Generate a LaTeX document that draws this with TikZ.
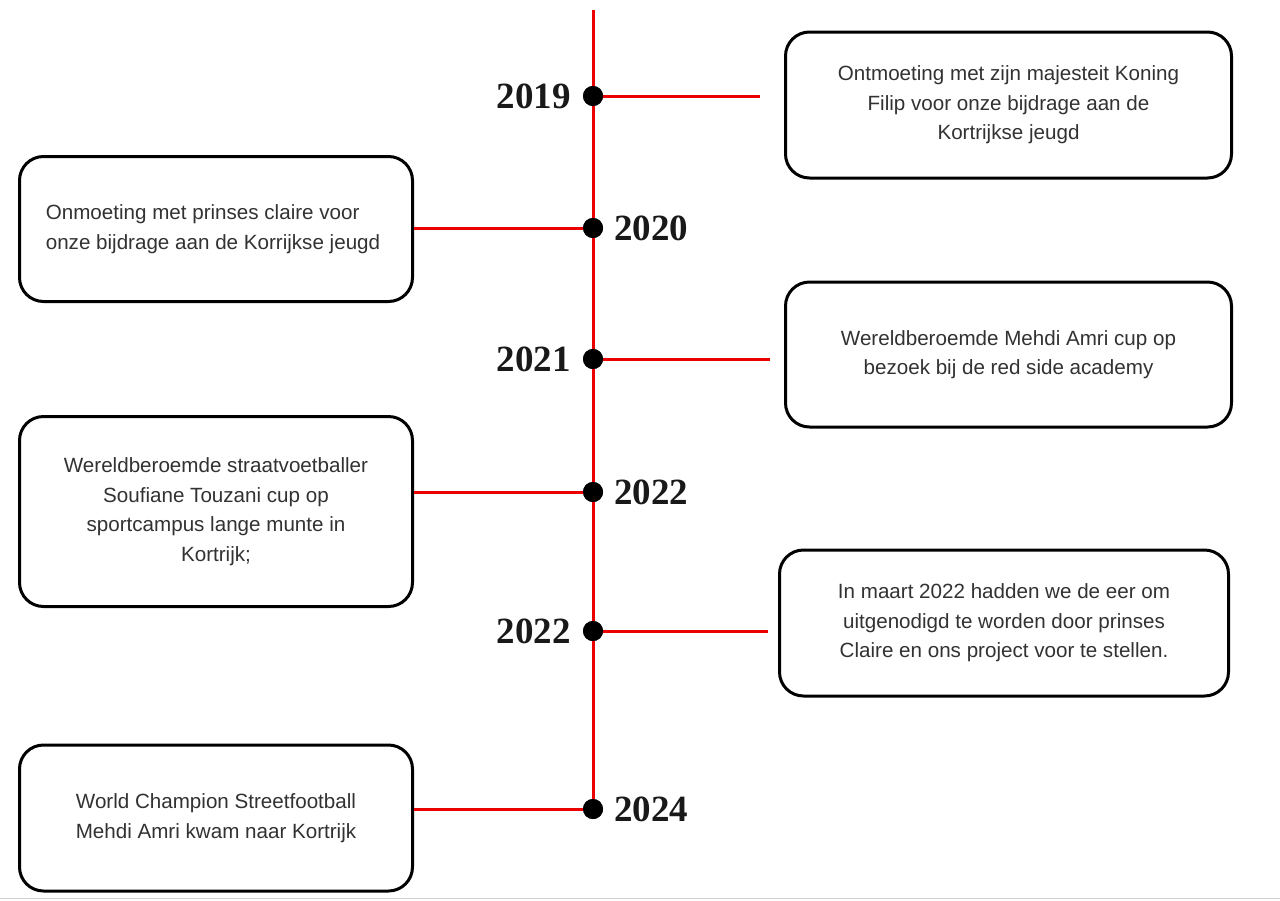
\documentclass[tikz,border=0pt]{standalone}
\usepackage{fontspec}
\setmainfont{Liberation Sans}
\newfontfamily\yearfont{Liberation Serif}
\definecolor{lnred}{RGB}{235,0,0}
\definecolor{txtgray}{RGB}{50,50,50}
\begin{document}
\begin{tikzpicture}[x=1pt,y=-1pt,
  evbox/.style={draw=black, line width=3pt, rounded corners=24pt, inner sep=0pt,
    text=txtgray, font=\fontsize{20.6}{29.5}\selectfont, align=center},
  redline/.style={draw=lnred, line width=3pt},
  dotmark/.style={circle, fill=black, minimum size=20pt, inner sep=0pt},
  yearlbl/.style={font=\yearfont\bfseries\fontsize{37}{37}\selectfont, inner sep=0pt, text=black!90}
]
\useasboundingbox (0,0) rectangle (1280,900);
\fill[white] (0,0) rectangle (1280,900);
\draw[gray!35, line width=1.5pt] (0,898.5) -- (1280,898.5);

% boxes
\node[evbox, minimum width=446pt, minimum height=146pt] (b1) at (1008.5,105)
  {Ontmoeting met zijn majesteit Koning\\Filip voor onze bijdrage aan de\\Kortrijkse jeugd};
\node[evbox, minimum width=393pt, minimum height=145pt, align=left] (b2) at (216,229)
  {Onmoeting met prinses claire voor\\onze bijdrage aan de Korrijkse jeugd\hspace*{6pt}};
\node[evbox, minimum width=446pt, minimum height=145pt] (b3) at (1008.5,354.5)
  {Wereldberoemde Mehdi Amri cup op\\bezoek bij de red side academy};
\node[evbox, minimum width=393pt, minimum height=190pt] (b4) at (216,511.5)
  {Wereldberoemde straatvoetballer\\Soufiane Touzani cup op\\sportcampus lange munte in\\Kortrijk;};
\node[evbox, minimum width=449pt, minimum height=146pt] (b5) at (1004,623)
  {In maart 2022 hadden we de eer om\\uitgenodigd te worden door prinses\\Claire en ons project voor te stellen.};
\node[evbox, minimum width=393pt, minimum height=146pt] (b6) at (216,818)
  {World Champion Streetfootball\\Mehdi Amri kwam naar Kortrijk};

% timeline
\coordinate (top) at (593,10);
\node[dotmark] (d1) at (593,96) {};
\node[dotmark] (d2) at (593,228) {};
\node[dotmark] (d3) at (593,359) {};
\node[dotmark] (d4) at (593,492) {};
\node[dotmark] (d5) at (593,631) {};
\node[dotmark] (d6) at (593,809) {};

\draw[redline] (top) -- (d6.center);
\coordinate (e1) at (760,96);
\coordinate (e3) at (770,359);
\coordinate (e5) at (768,631);
\draw[redline] (d1.center) -- (e1);
\draw[redline] (d2.center) -- (d2 -| b2.east);
\draw[redline] (d3.center) -- (e3);
\draw[redline] (d4.center) -- (d4 -| b4.east);
\draw[redline] (d5.center) -- (e5);
\draw[redline] (d6.center) -- (d6 -| b6.east);

% redraw dots on top
\foreach \d in {d1,d2,d3,d4,d5,d6} \fill[black] (\d) circle (10pt);

% years
\node[yearlbl, anchor=east] (y1) at (571,96) {2019};
\node[yearlbl, anchor=west] (y2) at (614,228) {2020};
\node[yearlbl, anchor=east] (y3) at (571,359) {2021};
\node[yearlbl, anchor=west] (y4) at (614,492) {2022};
\node[yearlbl, anchor=east] (y5) at (571,631) {2022};
\node[yearlbl, anchor=west] (y6) at (614,809) {2024};
\end{tikzpicture}
\end{document}
